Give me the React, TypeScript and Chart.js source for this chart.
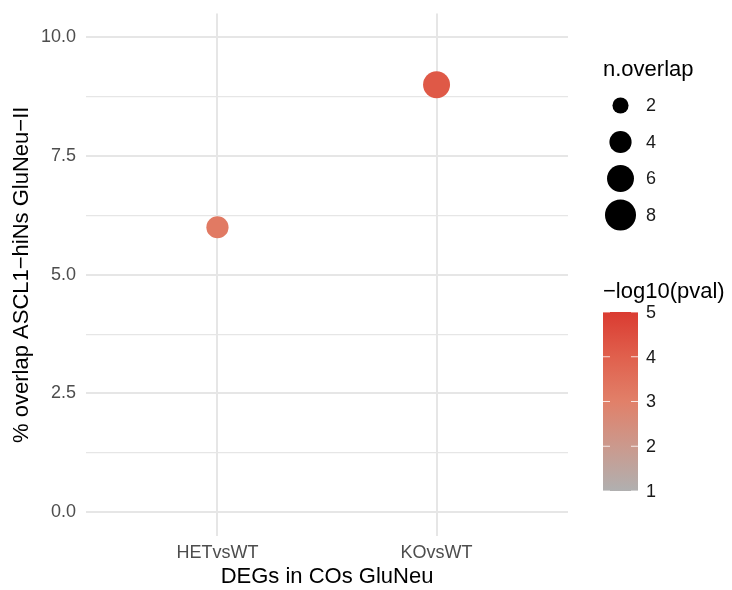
import { useEffect, useRef } from 'react';
import { Chart, registerables } from 'chart.js';
Chart.register(...registerables);

const categories = ['HETvsWT', 'KOvsWT'];
const percentOverlap = [6, 9];
const nOverlap = [4, 6];
const negLog10P = [3.2, 4.2];
const yMajorTicks = [0, 2.5, 5, 7.5, 10];
const yMinorTicks = [1.25, 3.75, 6.25, 8.75];
const sizeLegendValues = [2, 4, 6, 8];
const colorLegendTicks = [1, 2, 3, 4, 5];
const colorStopValues = [1, 2, 3, 4, 5];
const colorStopHex = ['#B0B0B0', '#CB998D', '#E18069', '#E0604D', '#DA3B31'];

const FONT = '"Liberation Sans", Arial, Helvetica, sans-serif';
const GRID = '#E6E6E6';

function hexToRgb(h: string) {
  const n = parseInt(h.slice(1), 16);
  return [(n >> 16) & 255, (n >> 8) & 255, n & 255];
}
function colorFor(v: number) {
  const vals = colorStopValues;
  if (v <= vals[0]) return colorStopHex[0];
  if (v >= vals[vals.length - 1]) return colorStopHex[vals.length - 1];
  let i = 0;
  while (v > vals[i + 1]) i++;
  const t = (v - vals[i]) / (vals[i + 1] - vals[i]);
  const a = hexToRgb(colorStopHex[i]);
  const b = hexToRgb(colorStopHex[i + 1]);
  const c = a.map((x, k) => Math.round(x + (b[k] - x) * t));
  return `rgb(${c[0]},${c[1]},${c[2]})`;
}
function radiusFor(n: number) {
  return Math.sqrt(6 + 29.3 * n);
}

const legendPlugin = {
  id: 'ggLegend',
  afterDraw(chart: any) {
    const ctx = chart.ctx as CanvasRenderingContext2D;
    const x0 = 603;
    ctx.save();
    ctx.fillStyle = '#000';
    ctx.textBaseline = 'middle';
    ctx.textAlign = 'left';
    ctx.font = `22px ${FONT}`;
    ctx.fillText('n.overlap', x0, 70);
    ctx.font = `18px ${FONT}`;
    sizeLegendValues.forEach((v, i) => {
      const cy = 105.5 + i * 36.5;
      ctx.beginPath();
      ctx.arc(620.5, cy, radiusFor(v), 0, Math.PI * 2);
      ctx.fillStyle = '#000';
      ctx.fill();
      ctx.fillStyle = '#1A1A1A';
      ctx.fillText(String(v), 646, cy + 1);
    });
    // colour bar
    ctx.fillStyle = '#000';
    ctx.font = `22px ${FONT}`;
    ctx.fillText('\u2212log10(pval)', x0, 292);
    const top = 312, bottom = 491, left = 603, width = 35;
    const lo = colorLegendTicks[0], hi = colorLegendTicks[colorLegendTicks.length - 1];
    const g = ctx.createLinearGradient(0, bottom, 0, top);
    colorStopValues.forEach((v, i) => g.addColorStop((v - lo) / (hi - lo), colorStopHex[i]));
    ctx.fillStyle = g;
    ctx.fillRect(left, top, width, bottom - top);
    ctx.font = `18px ${FONT}`;
    colorLegendTicks.forEach((v) => {
      const y = bottom - ((v - lo) / (hi - lo)) * (bottom - top);
      ctx.strokeStyle = 'rgba(255,255,255,0.8)';
      ctx.lineWidth = 1;
      ctx.beginPath();
      ctx.moveTo(left, y); ctx.lineTo(left + 7, y);
      ctx.moveTo(left + width - 7, y); ctx.lineTo(left + width, y);
      ctx.stroke();
      ctx.fillStyle = '#1A1A1A';
      ctx.fillText(String(v), 646, y + 1);
    });
    ctx.restore();
  },
};

export default function App() {
  const ref = useRef<HTMLCanvasElement | null>(null);
  useEffect(() => {
    document.body.style.margin = '0';
    const canvas = ref.current!;
    const data = categories.map((_, i) => ({ x: i + 1, y: percentOverlap[i], r: radiusFor(nOverlap[i]) }));
    const chart = new Chart(canvas, {
      type: 'bubble',
      data: {
        datasets: [
          {
            data,
            backgroundColor: negLog10P.map((v) => colorFor(v)),
            borderWidth: 0,
            hoverBorderWidth: 0,
          },
        ],
      },
      options: {
        animation: false,
        responsive: false,
        devicePixelRatio: 1,
        layout: { padding: { left: 0, top: 11, right: 164, bottom: 0 } },
        plugins: { legend: { display: false }, tooltip: { enabled: false } },
        scales: {
          x: {
            type: 'linear',
            min: 0.4,
            max: 2.6,
            afterBuildTicks: (s: any) => {
              s.ticks = categories.map((_, i) => ({ value: i + 1 }));
            },
            ticks: {
              autoSkip: false,
              maxRotation: 0,
              padding: 6,
              color: '#4D4D4D',
              font: { size: 18, family: FONT },
              callback: (v: any) => categories[Math.round(Number(v)) - 1] ?? '',
            },
            grid: { color: GRID, lineWidth: 2, drawTicks: false },
            border: { display: false },
            title: {
              display: true,
              text: 'DEGs in COs GluNeu',
              color: '#000',
              font: { size: 22, family: FONT },
              padding: { top: 0, bottom: 0 },
            },
            afterFit: (s: any) => {
              s.height = 54;
              s.paddingLeft = 0;
              s.paddingRight = 0;
            },
          },
          y: {
            type: 'linear',
            min: -0.5,
            max: 10.5,
            afterBuildTicks: (s: any) => {
              s.ticks = [...yMajorTicks, ...yMinorTicks].sort((a, b) => a - b).map((v) => ({ value: v }));
            },
            ticks: {
              autoSkip: false,
              padding: 10,
              color: '#4D4D4D',
              font: { size: 18, family: FONT },
              callback: (v: any) => (yMajorTicks.includes(Number(v)) ? Number(v).toFixed(1) : ''),
            },
            grid: {
              color: GRID,
              lineWidth: (c: any) => (yMajorTicks.includes(c.tick?.value) ? 2 : 1.2),
              drawTicks: false,
            },
            border: { display: false },
            title: {
              display: true,
              text: '% overlap ASCL1\u2212hiNs GluNeu\u2212II',
              color: '#000',
              font: { size: 22, family: FONT },
              padding: { top: 9, bottom: 0 },
            },
            afterFit: (s: any) => {
              s.width = 86;
              s.paddingTop = 0;
              s.paddingBottom = 0;
            },
          },
        },
      },
      plugins: [legendPlugin],
    });
    return () => chart.destroy();
  }, []);
  return (
    <div style={{ position: 'absolute', left: 0, top: 0, width: 732, height: 590 }}>
      <canvas ref={ref} width={732} height={590} />
    </div>
  );
}
